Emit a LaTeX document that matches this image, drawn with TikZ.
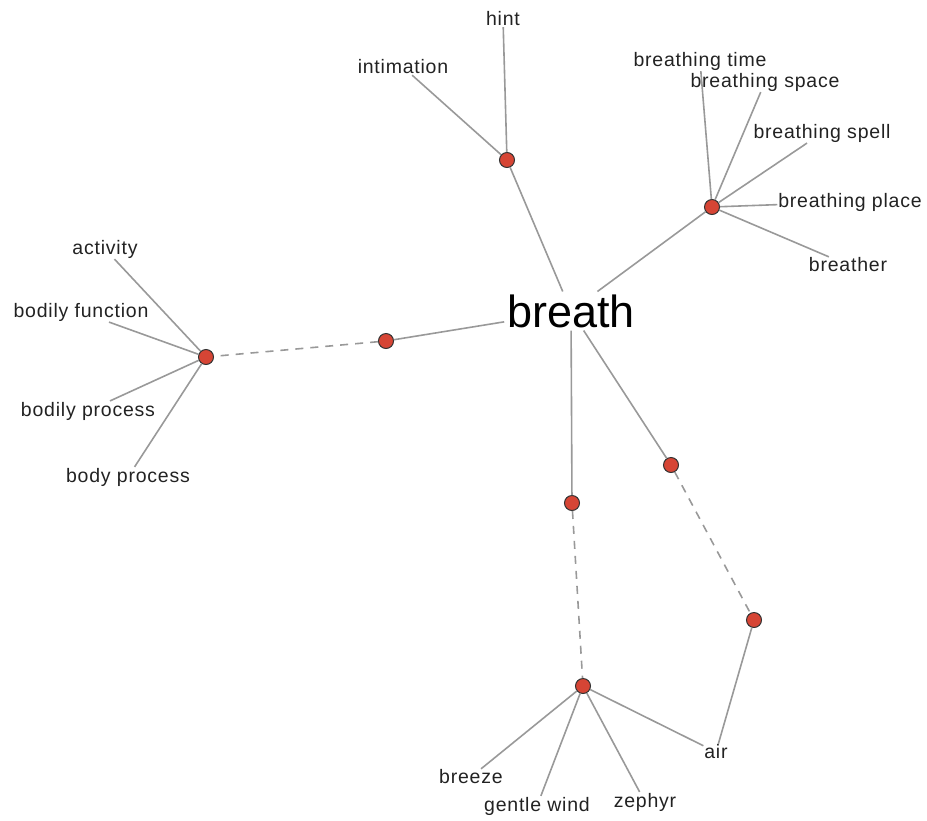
\documentclass[tikz,border=0pt]{standalone}
\usepackage{fontspec}
\setmainfont{Liberation Sans}
\newfontfamily\lblfont[LetterSpace=4]{Liberation Sans}
\definecolor{dotred}{HTML}{D64535}
\definecolor{edgegray}{HTML}{999999}
\definecolor{txtgray}{HTML}{222222}

\begin{document}
\begin{tikzpicture}[x=1pt,y=-1pt,
                    dot/.style={circle,draw=black!80,fill=dotred,line width=1pt,minimum size=15pt,inner sep=0pt},
                    lbl/.style={inner sep=0pt,outer sep=1pt,text=txtgray,font=\lblfont\fontsize{19.5}{20}\selectfont},
                    lnk/.style={draw=edgegray,line width=1.6pt},
                    dlnk/.style={lnk,dash pattern=on 8pt off 7pt}
                    %root/.style={font=\fontsize{45}{45}\selectfont}
                    ]
  \useasboundingbox (0,0) rectangle (927,820);
  % centre word
  \node[inner sep=0pt,outer sep=3pt,text=black,font=\fontsize{45}{45}\selectfont] (br) at (571,311) {breath};
  % sense dots
  \node[dot] (d1) at (507,160) {};
  \node[dot] (d2) at (712,207) {};
  \node[dot] (d3) at (386,341) {};
  \node[dot] (d4) at (206,357) {};
  \node[dot] (d5) at (572,503) {};
  \node[dot] (d6) at (671,465) {};
  \node[dot] (d7) at (754,620) {};
  \node[dot] (d8) at (583,686) {};
  % words
  \node[lbl] (hint)   at (503,19)  {hint};
  \node[lbl] (intim)  at (403,67)  {intimation};
  \node[lbl] (btime)  at (700,61)  {breathing time};
  \node[lbl] (bspace) at (765,82)  {breathing space};
  \node[lbl] (bspell) at (822,133) {breathing spell};
  \node[lbl] (bplace) at (850,202) {breathing place};
  \node[lbl] (bther)  at (848,265) {breather};
  \node[lbl] (act)    at (105,249) {activity};
  \node[lbl] (bfunc)  at (81,312)  {bodily function};
  \node[lbl] (bproc)  at (88,411)  {bodily process};
  \node[lbl] (bodyp)  at (128,477) {body process};
  \node[lbl] (air)    at (716,752) {air};
  \node[lbl] (brz)    at (471,777) {breeze};
  \node[lbl] (gwind)  at (537,806) {gentle wind};
  \node[lbl] (zeph)   at (645,802) {zephyr};

  \draw [lnk] (br) -- (d1);
  \draw [lnk] (br) -- (d2);
  \draw [lnk] (br) -- (d3);
  \draw [lnk] (br) -- (d5);
  \draw [lnk] (br) -- (d6);
  \draw [dlnk] (d3) -- (d4);
  \draw [dlnk] (d5) -- (d8);
  \draw [dlnk] (d6) -- (d7);

  \draw [lnk] (d1) -- (hint);
  \draw [lnk] (d1) -- (intim);
  \draw [lnk] (d2) -- (btime);
  \draw [lnk] (d2) -- (bspace);
  \draw [lnk] (d2) -- (bspell);
  \draw [lnk] (d2) -- (bplace);
  \draw [lnk] (d2) -- (bther);
  \draw [lnk] (d4) -- (act);
  \draw [lnk] (d4) -- (bfunc);
  \draw [lnk] (d4) -- (bproc);
  \draw [lnk] (d4) -- (bodyp);
  \draw [lnk] (d7) -- (air);
  \draw [lnk] (d8) -- (air);
  \draw [lnk] (d8) -- (brz);
  \draw [lnk] (d8) -- (gwind);
  \draw [lnk] (d8) -- (zeph);
\end{tikzpicture}
\end{document}
